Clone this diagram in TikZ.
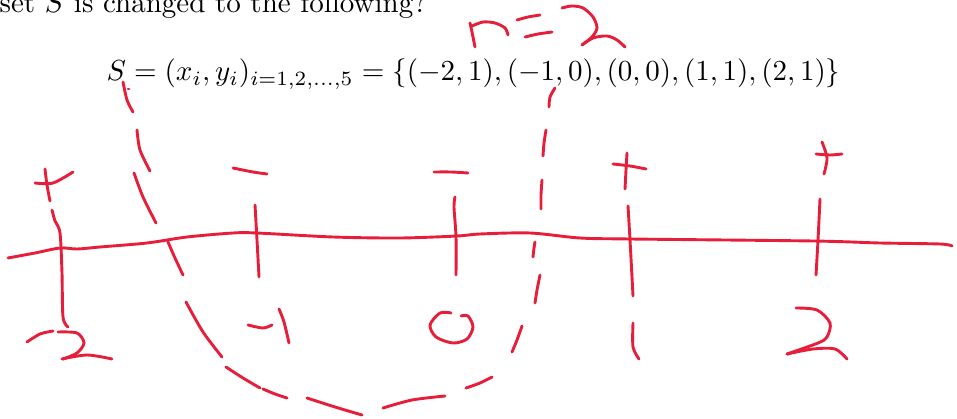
\documentclass[tikz,border=0pt]{standalone}
\usepackage{amsmath}
\begin{document}
\begin{tikzpicture}[x=0.3448pt,y=-0.3448pt,
  ink/.style={draw=inkred,line width=1pt,line cap=round,line join=round},
  txt/.style={inner sep=0pt,anchor=base west}]
\definecolor{inkred}{RGB}{230,30,58}
\useasboundingbox (0,0) rectangle (957,419);
% text
\node[txt] (title) at (-1,13) {set $S$ is changed to the following?};
\node[txt] (formula) at (106,81) {$S = (x_i,y_i)_{i=1,2,\ldots,5} = \{(-2,1),(-1,0),(0,0),(1,1),(2,1)\}$};
% n = 2
\draw[ink] plot[smooth] coordinates {(475,47) (472,32) (470,23)};
\draw[ink] plot[smooth] coordinates {(472,26) (483,22) (495,23) (505,28) (508,35)};
\draw[ink] plot[smooth] coordinates {(517,20) (528,17) (540,15)};
\draw[ink] plot[smooth] coordinates {(525,37) (538,34) (552,32)};
\draw[ink] plot[smooth] coordinates {(562,8) (572,6) (583,8) (593,17) (597,28) (592,37) (582,45)};
\draw[ink] plot[smooth] coordinates {(582,45) (593,38) (607,36) (617,40) (625,47)};
% dashed U curve
\draw[ink] plot[smooth] coordinates {(123,82) (127,100) (133,112)};
\draw[ink] (128,89) -- (129,89);
\draw[ink] plot[smooth] coordinates {(137,130) (140,150) (150,171)};
\draw[ink] plot[smooth] coordinates {(134,173) (143,197) (156,223)};
\draw[ink] plot[smooth] coordinates {(168,242) (175,258) (183,275)};
\draw[ink] plot[smooth] coordinates {(186,302) (203,332) (222,357)};
\draw[ink] plot[smooth] coordinates {(226,367) (243,378) (260,388)};
\draw[ink] plot[smooth] coordinates {(263,389) (275,394) (287,398)};
\draw[ink] plot[smooth] coordinates {(307,398) (335,407) (362,415)};
\draw[ink] plot[smooth] coordinates {(383,408) (412,400) (445,396)};
\draw[ink] plot[smooth] coordinates {(466,388) (480,383) (492,377)};
\draw[ink] plot[smooth] coordinates {(512,352) (517,340) (522,326)};
\draw[ink] plot[smooth] coordinates {(535,303) (537,290) (540,275)};
\draw[ink] plot[smooth] coordinates {(533,257) (534,248) (535,242)};
\draw[ink] plot[smooth] coordinates {(541,209) (541,195) (542,180)};
\draw[ink] plot[smooth] coordinates {(543,156) (544,143) (546,130)};
\draw[ink] plot[smooth] coordinates {(549,107) (550,97) (555,88)};
% axis
\draw[ink] plot[smooth] coordinates {(8,258) (35,253) (60,248) (77,249) (100,247) (147,243) (187,237) (233,233) (257,233) (333,237) (400,238) (457,236) (480,234) (530,233) (580,238) (630,239) (813,241) (880,243) (940,244) (952,246)};
% tick -2
\draw[ink] plot[smooth] coordinates {(45,169) (47,185) (50,201)};
\draw[ink] plot[smooth] coordinates {(35,183) (53,183) (73,172)};
\draw[ink] plot[smooth] coordinates {(52,210) (55,221) (60,233) (62,273) (63,317) (68,327)};
\draw[ink] plot[smooth] coordinates {(27,342) (40,334) (53,331)};
\draw[ink] plot[smooth] coordinates {(58,332) (77,333) (84,343) (77,353) (63,359)};
\draw[ink] plot[smooth] coordinates {(62,359) (87,355) (112,359)};
% tick -1
\draw[ink] plot[smooth] coordinates {(233,168) (253,172) (267,174)};
\draw[ink] plot[smooth] coordinates {(255,205) (257,240) (259,277)};
\draw[ink] plot[smooth] coordinates {(248,325) (263,328) (272,325)};
\draw[ink] plot[smooth] coordinates {(279,309) (284,322) (289,343)};
% tick 0
\draw[ink] plot[smooth] coordinates {(434,172) (451,172) (468,173)};
\draw[ink] plot[smooth] coordinates {(455,197) (454,207) (456,237) (456,275)};
\draw[ink] plot[smooth] coordinates {(451,313) (440,313) (430,325) (436,337) (453,343) (467,339) (473,327) (468,316) (461,316)};
% tick 1
\draw[ink] plot[smooth] coordinates {(613,164) (630,166) (646,169)};
\draw[ink] plot[smooth] coordinates {(627,153) (626,170) (625,189)};
\draw[ink] plot[smooth] coordinates {(628,206) (630,240) (633,296)};
\draw[ink] plot[smooth] coordinates {(633,323) (633,347) (639,359)};
% tick 2
\draw[ink] plot[smooth] coordinates {(816,154) (830,155) (842,154)};
\draw[ink] plot[smooth] coordinates {(822,142) (827,158) (824,174)};
\draw[ink] plot[smooth] coordinates {(820,199) (818,240) (816,275)};
\draw[ink] plot[smooth] coordinates {(796,308) (817,310) (830,323) (827,337) (818,343) (787,354)};
\draw[ink] plot[smooth] coordinates {(787,354) (813,349) (835,349) (847,359)};
\end{tikzpicture}
\end{document}
